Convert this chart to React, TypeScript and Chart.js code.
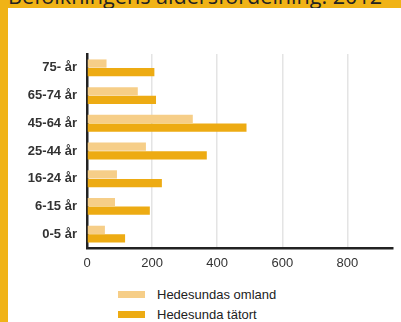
import React, { useEffect, useRef } from "react";
import { Chart, registerables } from "chart.js";

Chart.register(...registerables);

const categories = ["75- år", "65-74 år", "45-64 år", "25-44 år", "16-24 år", "6-15 år", "0-5 år"];
const omland = [60, 156, 325, 181, 92, 86, 55];
const tatort = [207, 212, 490, 368, 230, 193, 117];
const seriesNames = ["Hedesundas omland", "Hedesunda tätort"];
const xTicks = [0, 200, 400, 600, 800];
const title = "Befolkningens åldersfördelning: 2012";

const LIGHT = "#F6CE88";
const DARK = "#EDAB13";
const FRAME = "#F0B316";

export default function App() {
  const ref = useRef<HTMLCanvasElement | null>(null);

  useEffect(() => {
    document.body.style.margin = "0";
    const ctx = ref.current!;
    const chart = new Chart(ctx, {
      type: "bar",
      data: {
        labels: categories,
        datasets: [
          { label: seriesNames[0], data: omland, backgroundColor: LIGHT, categoryPercentage: 0.62, barPercentage: 0.96 },
          { label: seriesNames[1], data: tatort, backgroundColor: DARK, categoryPercentage: 0.62, barPercentage: 0.96 },
        ],
      },
      options: {
        indexAxis: "y",
        animation: false,
        responsive: false,
        maintainAspectRatio: false,
        layout: { padding: { top: 46, right: 8, left: 0, bottom: 0 } },
        plugins: { legend: { display: false }, tooltip: { enabled: false }, title: { display: false } },
        scales: {
          x: {
            min: 0,
            max: 940,
            afterBuildTicks: (s: any) => {
              s.ticks = xTicks.map((v) => ({ value: v }));
            },
            afterFit: (s: any) => {
              s.height = 37;
            },
            grid: {
              color: (c: any) => (c.tick && c.tick.value === 0 ? "rgba(0,0,0,0)" : "#e4e4e4"),
              lineWidth: 1.5,
              drawTicks: false,
            },
            border: { display: true, color: "#222", width: 2.5 },
            ticks: {
              padding: 8,
              color: "#333",
              font: { family: "Liberation Sans, Arial", size: 13 },
            },
          },
          y: {
            afterFit: (s: any) => {
              s.width = 79;
            },
            grid: { display: false, drawTicks: false },
            border: { display: true, color: "#222", width: 2.5 },
            ticks: {
              padding: 10,
              color: "#333",
              font: { family: "Liberation Sans, Arial", size: 13, weight: "bold" },
            },
          },
        },
      },
    });
    return () => chart.destroy();
  }, []);

  return (
    <div style={{ position: "absolute", left: 0, top: 0, width: 401, height: 322, background: "#fff", overflow: "hidden" }}>
      <div style={{ position: "absolute", left: 0, top: 0, width: 8, height: 322, background: FRAME }} />
      <div style={{ position: "absolute", left: 0, top: 0, width: 401, height: 8, background: FRAME, overflow: "hidden" }}>
        <div
          style={{
            position: "absolute",
            left: 8,
            top: -15,
            whiteSpace: "nowrap",
            fontFamily: "'Open Sans', sans-serif",
            fontSize: 21.6,
            lineHeight: "22px",
            color: "#222",
          }}
        >
          {title}
        </div>
      </div>
      <canvas ref={ref} width={393} height={277} style={{ position: "absolute", left: 8, top: 8, width: 393, height: 277 }} />
      {seriesNames.map((n, i) => (
        <div key={n} style={{ position: "absolute", left: 118, top: 287 + i * 20, height: 14, display: "flex", alignItems: "center" }}>
          <div style={{ width: 27, height: 7, background: i === 0 ? LIGHT : DARK, marginRight: 12 }} />
          <span style={{ fontFamily: "Liberation Sans, Arial", fontSize: 13, color: "#222", whiteSpace: "nowrap" }}>{n}</span>
        </div>
      ))}
    </div>
  );
}
